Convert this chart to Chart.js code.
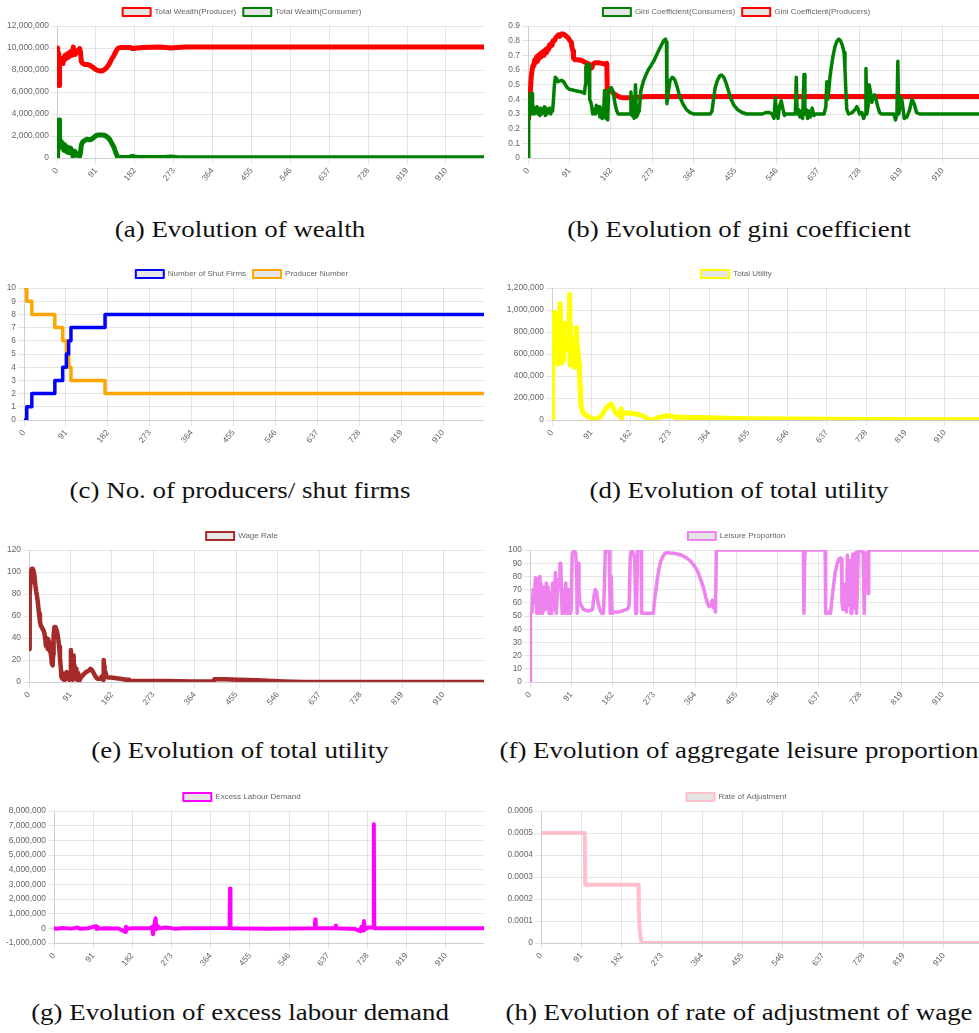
<!DOCTYPE html>
<html>
<head>
<meta charset="utf-8">
<script src="https://cdn.jsdelivr.net/npm/chart.js@4.4.1/dist/chart.umd.min.js"></script>
<style>
  html, body { margin: 0; padding: 0; background: #fff; }
  body { position: relative; width: 979px; height: 1033px; overflow: hidden; }
  canvas { position: absolute; }
  .cap {
    position: absolute;
    font-family: "Liberation Serif", "Times New Roman", serif;
    font-size: 23px;
    line-height: 23px;
    white-space: nowrap;
    color: #111;
    transform: translateX(-50%) scaleX(1.17);
    transform-origin: center;
  }
</style>
</head>
<body>
<canvas id="chartWealth" width="484" height="189" style="left:0px;top:1px"></canvas>
<canvas id="chartGini" width="493" height="189" style="left:490px;top:1px"></canvas>
<canvas id="chartFirms" width="484" height="189" style="left:0px;top:263px"></canvas>
<canvas id="chartUtility" width="493" height="189" style="left:490px;top:263px"></canvas>
<canvas id="chartWage" width="484" height="189" style="left:0px;top:525px"></canvas>
<canvas id="chartLeisure" width="493" height="189" style="left:490px;top:525px"></canvas>
<canvas id="chartExcess" width="484" height="189" style="left:0px;top:786px"></canvas>
<canvas id="chartRate" width="493" height="189" style="left:490px;top:786px"></canvas>

<div class="cap" style="left:240px;top:218px">(a) Evolution of wealth</div>
<div class="cap" style="left:739px;top:218px">(b) Evolution of gini coefficient</div>
<div class="cap" style="left:240px;top:479px">(c) No. of producers/ shut firms</div>
<div class="cap" style="left:739px;top:479px">(d) Evolution of total utility</div>
<div class="cap" style="left:240px;top:739px">(e) Evolution of total utility</div>
<div class="cap" style="left:739px;top:739px">(f) Evolution of aggregate leisure proportion</div>
<div class="cap" style="left:240px;top:1001px">(g) Evolution of excess labour demand</div>
<div class="cap" style="left:739px;top:1001px">(h) Evolution of rate of adjustment of wage</div>

<script>
// [step, value] pairs
const producerWealth = [
  [0, 10.0e6], [1, 9.2e6], [2, 9.8e6], [3, 8.7e6], [4, 9.5e6], [5, 6.6e6], [6, 8.4e6],
  [8, 8.6e6], [10, 8.9e6], [12, 8.6e6], [14, 9.1e6], [16, 8.8e6], [18, 9.3e6], [20, 9.0e6],
  [22, 9.4e6], [24, 9.1e6], [26, 9.5e6], [28, 9.2e6], [30, 9.6e6], [32, 9.3e6], [34, 9.7e6],
  [36, 9.35e6], [38, 10.1e6], [40, 9.4e6], [42, 9.6e6], [44, 9.5e6], [46, 9.7e6], [48, 9.6e6],
  [50, 9.8e6], [53, 9.95e6], [55, 9.6e6], [57, 8.8e6], [60, 8.6e6], [65, 8.5e6], [72, 8.5e6],
  [78, 8.4e6], [84, 8.25e6], [90, 8.05e6], [96, 7.95e6], [102, 7.9e6], [108, 7.95e6],
  [113, 8.1e6], [118, 8.3e6], [123, 8.6e6], [128, 9.0e6], [133, 9.3e6], [138, 9.7e6],
  [142, 9.95e6], [148, 10.05e6], [172, 10.05e6], [176, 9.95e6], [180, 9.95e6], [186, 10.0e6],
  [200, 10.05e6], [240, 10.1e6], [255, 10.05e6], [266, 10.0e6], [280, 10.05e6], [300, 10.1e6],
  [999, 10.1e6]
];
const consumerWealth = [
  [0, 0], [1, 1.1e6], [2, 0.4e6], [3, 1.5e6], [4, 0.9e6], [5, 3.45e6], [6, 1.6e6], [8, 1.3e6],
  [10, 1.5e6], [12, 1.0e6], [14, 1.3e6], [16, 0.7e6], [18, 1.2e6], [20, 0.8e6], [22, 0.6e6],
  [24, 1.0e6], [26, 0.5e6], [28, 0.8e6], [30, 0.55e6], [32, 0.9e6], [34, 0.4e6], [36, 0.7e6],
  [38, 0.1e6], [40, 0.6e6], [42, 0.5e6], [44, 0.35e6], [46, 0.4e6], [48, 0.25e6], [50, 0.3e6],
  [53, 0.15e6], [55, 0.5e6], [57, 1.2e6], [60, 1.45e6], [65, 1.6e6], [70, 1.7e6], [76, 1.65e6],
  [80, 1.7e6], [86, 1.85e6], [92, 2.05e6], [98, 2.1e6], [105, 2.1e6], [112, 2.05e6],
  [118, 1.9e6], [123, 1.7e6], [128, 1.35e6], [133, 1.0e6], [137, 0.55e6], [141, 0.15e6],
  [146, 0.05e6], [160, 0.05e6], [170, 0.08e6], [176, 0.15e6], [182, 0.1e6], [190, 0.05e6],
  [250, 0.05e6], [266, 0.1e6], [280, 0.05e6], [300, 0.02e6], [999, 0.02e6]
];

const giniConsumers = [
  [0, 0], [1, 0.3], [2, 0.27], [3, 0.4], [4, 0.31], [5, 0.44], [6, 0.3], [7, 0.37], [8, 0.3],
  [9, 0.44], [10, 0.32], [12, 0.35], [14, 0.3], [16, 0.34], [18, 0.31], [20, 0.35], [22, 0.3],
  [24, 0.33], [26, 0.29], [28, 0.34], [30, 0.3], [32, 0.33], [34, 0.31], [36, 0.35], [38, 0.29],
  [40, 0.34], [42, 0.3], [44, 0.33], [46, 0.31], [48, 0.34], [50, 0.3], [52, 0.33], [54, 0.32],
  [56, 0.4], [58, 0.5], [60, 0.55], [63, 0.54], [66, 0.52], [70, 0.525], [74, 0.53], [78, 0.52],
  [82, 0.5], [86, 0.48], [90, 0.47], [96, 0.465], [102, 0.46], [110, 0.455], [118, 0.45],
  [124, 0.44], [126, 0.5], [127, 0.62], [130, 0.64], [134, 0.63], [135, 0.6], [136, 0.4],
  [138, 0.38], [140, 0.35], [142, 0.3], [145, 0.33], [148, 0.3], [150, 0.36], [153, 0.31],
  [156, 0.35], [158, 0.28], [160, 0.34], [163, 0.27], [166, 0.3], [168, 0.46], [169, 0.3],
  [171, 0.27], [173, 0.3], [175, 0.26], [177, 0.45], [179, 0.47], [183, 0.48], [187, 0.45],
  [191, 0.37], [195, 0.32], [198, 0.3], [224, 0.3], [226, 0.45], [228, 0.29], [231, 0.3],
  [233, 0.27], [236, 0.5], [238, 0.28], [241, 0.3], [244, 0.32], [248, 0.46], [253, 0.52],
  [258, 0.56], [264, 0.6], [270, 0.63], [276, 0.66], [282, 0.7], [288, 0.74], [293, 0.77],
  [298, 0.8], [302, 0.81], [304, 0.79], [305, 0.37], [308, 0.45], [312, 0.53], [317, 0.55],
  [322, 0.535], [327, 0.49], [333, 0.42], [340, 0.37], [348, 0.33], [356, 0.31], [364, 0.3],
  [400, 0.3], [404, 0.32], [407, 0.39], [411, 0.48], [416, 0.53], [421, 0.56], [425, 0.565],
  [430, 0.55], [435, 0.51], [440, 0.46], [446, 0.4], [452, 0.36], [460, 0.33], [470, 0.31],
  [480, 0.3], [515, 0.3], [522, 0.31], [530, 0.31], [536, 0.3], [540, 0.27], [543, 0.41],
  [546, 0.3], [549, 0.27], [552, 0.35], [556, 0.39], [560, 0.33], [563, 0.29], [566, 0.3],
  [587, 0.3], [589, 0.55], [591, 0.3], [594, 0.33], [597, 0.28], [600, 0.32], [603, 0.27],
  [606, 0.57], [608, 0.3], [611, 0.33], [614, 0.27], [617, 0.32], [620, 0.28], [624, 0.34],
  [628, 0.29], [632, 0.3], [650, 0.3], [654, 0.35], [656, 0.52], [658, 0.4], [660, 0.45],
  [663, 0.55], [666, 0.62], [670, 0.7], [674, 0.76], [678, 0.795], [682, 0.81], [686, 0.8],
  [690, 0.77], [694, 0.72], [696, 0.6], [698, 0.45], [700, 0.33], [704, 0.3], [712, 0.31],
  [718, 0.33], [722, 0.35], [725, 0.33], [728, 0.3], [733, 0.31], [737, 0.27], [740, 0.3],
  [742, 0.61], [744, 0.3], [747, 0.36], [749, 0.5], [752, 0.45], [755, 0.38], [758, 0.42],
  [761, 0.43], [764, 0.4], [768, 0.35], [772, 0.31], [776, 0.3], [803, 0.3], [807, 0.26],
  [810, 0.3], [812, 0.66], [814, 0.3], [817, 0.35], [820, 0.41], [823, 0.35], [826, 0.27],
  [832, 0.28], [838, 0.33], [843, 0.4], [848, 0.37], [853, 0.31], [860, 0.3], [999, 0.3]
];
const giniProducers = [
  [0, 0.27], [1, 0.3], [2, 0.4], [3, 0.45], [5, 0.44], [7, 0.55], [9, 0.6], [11, 0.63],
  [13, 0.64], [15, 0.67], [17, 0.65], [19, 0.69], [21, 0.66], [23, 0.7], [25, 0.68], [27, 0.71],
  [29, 0.69], [31, 0.72], [33, 0.7], [35, 0.73], [37, 0.71], [39, 0.74], [41, 0.72], [43, 0.75],
  [45, 0.74], [47, 0.77], [49, 0.76], [51, 0.78], [53, 0.77], [55, 0.8], [58, 0.8], [61, 0.82],
  [64, 0.83], [67, 0.84], [70, 0.83], [73, 0.845], [77, 0.845], [80, 0.84], [84, 0.83],
  [88, 0.82], [92, 0.8], [95, 0.79], [97, 0.75], [99, 0.73], [100, 0.68], [103, 0.67],
  [110, 0.67], [118, 0.665], [124, 0.655], [130, 0.645], [134, 0.64], [137, 0.62], [140, 0.615],
  [143, 0.64], [147, 0.65], [155, 0.65], [162, 0.645], [168, 0.64], [173, 0.645], [174, 0.47],
  [178, 0.47], [183, 0.46], [188, 0.44], [195, 0.425], [202, 0.415], [210, 0.41], [225, 0.41],
  [240, 0.415], [260, 0.42], [999, 0.42]
];

const shutFirms = [
  [0, 0], [6, 1], [17, 2], [67, 3], [84, 4], [92, 5], [97, 6], [102, 7], [176, 8], [999, 8]
];
const producerNumber = [
  [0, 10], [6, 9], [17, 8], [67, 7], [84, 6], [92, 5], [97, 4], [102, 3], [176, 2], [999, 2]
];

const totalUtility = [
  [0, 0], [1, 170e3], [2, 410e3], [3, 660e3], [4, 880e3], [5, 780e3], [6, 980e3], [8, 900e3],
  [10, 950e3], [12, 780e3], [14, 920e3], [15, 510e3], [17, 700e3], [19, 1060e3], [21, 700e3],
  [23, 520e3], [25, 800e3], [27, 540e3], [29, 880e3], [31, 650e3], [33, 760e3], [35, 870e3],
  [37, 640e3], [39, 700e3], [41, 1140e3], [42, 500e3], [43, 870e3], [45, 620e3], [47, 660e3],
  [49, 550e3], [51, 600e3], [53, 480e3], [55, 560e3], [57, 840e3], [58, 500e3], [59, 670e3],
  [61, 600e3], [63, 500e3], [64, 380e3], [65, 300e3], [66, 230e3], [67, 160e3], [69, 100e3],
  [72, 70e3], [76, 50e3], [82, 35e3], [90, 20e3], [96, 10e3], [101, 0], [106, 10e3],
  [112, 30e3], [118, 60e3], [124, 100e3], [130, 125e3], [136, 145e3], [140, 130e3],
  [144, 90e3], [149, 60e3], [154, 45e3], [158, 40e3], [160, 100e3], [161, 5e3], [163, 70e3],
  [168, 60e3], [175, 65e3], [185, 60e3], [196, 55e3], [205, 45e3], [214, 30e3], [222, 10e3],
  [228, 0], [235, 0], [242, 15e3], [250, 25e3], [260, 35e3], [270, 38e3], [280, 35e3],
  [289, 20e3], [296, 28e3], [305, 25e3], [330, 22e3], [360, 20e3], [400, 15e3], [460, 12e3],
  [550, 10e3], [650, 7e3], [750, 5e3], [850, 3e3], [999, 2e3]
];

const wageRate = [
  [0, 30], [1, 68], [2, 80], [3, 90], [4, 100], [6, 103], [8, 103], [10, 101], [12, 96],
  [14, 88], [16, 82], [18, 77], [20, 70], [22, 62], [24, 55], [26, 51], [28, 50], [30, 48],
  [32, 47], [34, 44], [36, 38], [37, 33], [38, 40], [40, 35], [41, 30], [42, 39], [44, 36],
  [45, 28], [46, 33], [48, 25], [49, 22], [50, 17], [52, 15], [53, 25], [54, 43], [56, 50],
  [58, 50], [60, 48], [62, 45], [64, 40], [66, 32], [68, 22], [70, 12], [71, 5], [73, 3],
  [75, 6], [77, 2], [79, 8], [81, 4], [83, 9], [85, 3], [87, 7], [89, 2], [91, 6], [92, 29],
  [93, 3], [95, 22], [96, 2], [98, 24], [99, 8], [100, 15], [102, 3], [104, 12], [106, 2],
  [108, 8], [110, 0], [112, 3], [116, 5], [120, 7], [125, 9], [130, 10], [135, 12], [138, 11],
  [142, 8], [146, 5], [150, 3], [156, 3], [160, 5], [163, 2], [164, 20], [165, 14], [166, 4],
  [168, 9], [170, 5], [173, 4], [180, 4], [200, 3], [214, 2], [220, 2], [222, 0], [226, 1],
  [260, 1], [300, 1], [360, 0.5], [405, 0.5], [407, 2.5], [430, 2.5], [460, 2], [500, 1.5],
  [560, 0.5], [600, 0], [999, 0]
];

const leisureProportion = [
  [0, 0], [1, 52], [3, 54], [5, 53], [7, 70], [9, 60], [10, 67], [12, 79], [14, 74], [15, 52],
  [17, 78], [19, 75], [21, 80], [22, 52], [24, 75], [26, 62], [28, 52], [30, 72], [32, 60],
  [34, 55], [36, 75], [38, 65], [40, 72], [42, 52], [44, 68], [46, 58], [48, 52], [50, 75],
  [52, 60], [54, 55], [56, 83], [58, 52], [60, 65], [62, 72], [64, 78], [66, 90], [68, 90],
  [70, 60], [71, 52], [73, 70], [75, 52], [77, 65], [79, 75], [81, 55], [83, 52], [85, 70],
  [87, 55], [89, 52], [91, 55], [93, 97], [96, 99], [99, 99], [101, 97], [103, 80], [104, 52],
  [106, 90], [108, 70], [110, 60], [113, 58], [118, 55], [125, 54], [132, 54], [138, 55],
  [141, 65], [144, 70], [147, 68], [150, 60], [154, 55], [158, 52], [162, 52], [164, 70],
  [166, 99], [175, 99], [176, 70], [177, 52], [179, 80], [181, 52], [185, 53], [195, 53],
  [205, 54], [213, 55], [217, 56], [219, 60], [221, 95], [223, 99], [226, 99], [229, 96],
  [231, 93], [233, 52], [235, 52], [237, 100], [245, 100], [246, 52], [272, 52], [274, 60],
  [277, 68], [280, 76], [284, 85], [288, 91], [293, 95], [298, 97.5], [303, 98], [315, 97.5],
  [325, 97], [335, 96], [345, 94], [353, 92], [360, 89], [366, 86], [372, 82], [378, 76],
  [383, 71], [387, 65], [391, 60], [395, 57], [399, 58], [402, 62], [405, 56], [407, 62],
  [409, 53], [411, 100], [603, 100], [604, 52], [606, 96], [608, 100], [651, 100], [652, 52],
  [657, 52], [659, 53], [663, 52], [665, 60], [669, 72], [673, 83], [677, 89], [681, 93],
  [685, 94], [687, 93], [688, 60], [690, 55], [692, 74], [694, 55], [696, 70], [698, 53],
  [700, 96], [702, 58], [704, 80], [706, 92], [708, 52], [710, 85], [712, 97], [714, 56],
  [716, 70], [718, 98], [720, 52], [722, 70], [724, 100], [729, 100], [732, 99], [735, 97],
  [737, 52], [739, 98], [742, 95], [744, 84], [746, 67], [747, 100], [999, 100]
];

const excessLabourDemand = [
  [0, 0], [5, -30e3], [20, 20e3], [40, -20e3], [55, 60e3], [60, -30e3], [80, 10e3],
  [97, 150e3], [99, -50e3], [101, 100e3], [104, -20e3], [120, 10e3], [150, -10e3],
  [166, -250e3], [167, 100e3], [169, -50e3], [180, 0], [225, 30e3], [228, 100e3],
  [230, -400e3], [232, 50e3], [236, 680e3], [238, -50e3], [241, 150e3], [244, 0], [260, 50e3],
  [280, -20e3], [300, 0], [408, 20e3], [409, 2.72e6], [410, 0], [500, -20e3], [606, 0],
  [607, 600e3], [608, 0], [654, 0], [655, 200e3], [656, 0], [700, -50e3], [712, -200e3],
  [714, 100e3], [718, -150e3], [720, 500e3], [722, -50e3], [730, 50e3], [742, 50e3],
  [743, 7.1e6], [744, 0], [999, 0]
];

const rateOfAdjustment = [
  [0, 0.0005], [99, 0.0005], [100, 0.000265], [220, 0.000265], [221, 0.000155],
  [223, 0.00006], [225, 0.00003], [227, 0], [999, 0]
];

// x tick labels shown under every chart (time steps)
const stepTickLabels = [0, 91, 182, 273, 364, 455, 546, 637, 728, 819, 910];
const lastStep = 999;

Chart.defaults.font.family = "'Liberation Sans', Arial, sans-serif";
Chart.defaults.color = "#666";

function toPoints(pairs) {
  return pairs.map(([x, y]) => ({ x, y }));
}

function series(label, pairs, color, width, extra) {
  return Object.assign(
    {
      label,
      data: toPoints(pairs),
      borderColor: color,
      borderWidth: width,
      pointRadius: 0,
      borderJoinStyle: "round",
      borderCapStyle: "round",
    },
    extra || {}
  );
}

function makeChart(canvasId, datasets, yScale, yWidth) {
  const ctx = document.getElementById(canvasId);
  return new Chart(ctx, {
    type: "line",
    data: { datasets },
    options: {
      responsive: false,
      animation: false,
      events: [],
      devicePixelRatio: 1,
      layout: { padding: 0 },
      plugins: {
        tooltip: { enabled: false },
        legend: {
          labels: {
            font: { size: 8 },
            boxWidth: 28,
            padding: 7,
            generateLabels(chart) {
              const items = Chart.defaults.plugins.legend.labels.generateLabels(chart);
              items.forEach((it) => (it.lineWidth = 2));
              return items;
            },
          },
        },
      },
      scales: {
        x: {
          type: "linear",
          min: 0,
          max: lastStep,
          grid: { tickLength: 6 },
          ticks: {
            minRotation: 50,
            maxRotation: 50,
            padding: 2,
            font: { size: 8.4 },
          },
          afterBuildTicks(scale) {
            scale.ticks = stepTickLabels.map((v) => ({ value: v }));
          },
          afterFit(scale) {
            scale.height = 32;
          },
        },
        y: Object.assign(
          {
            grid: { tickLength: 6 },
            afterFit(scale) {
              scale.width = yWidth;
            },
          },
          yScale
        ),
      },
    },
  });
}

const yTicks = (step) => ({ stepSize: step, padding: 2, font: { size: 8.4 } });

makeChart(
  "chartWealth",
  [
    series("Total Wealth(Producer)", producerWealth, "red", 5),
    series("Total Wealth(Consumer)", consumerWealth, "green", 5),
  ],
  { min: 0, max: 12e6, ticks: yTicks(2e6) },
  57
);

makeChart(
  "chartGini",
  [
    series("Gini Coefficient(Consumers)", giniConsumers, "green", 3.5),
    series("Gini Coefficient(Producers)", giniProducers, "red", 5),
  ],
  { min: 0, max: 0.9, ticks: yTicks(0.1) },
  38
);

makeChart(
  "chartFirms",
  [
    series("Number of Shut Firms", shutFirms, "blue", 3.5, { stepped: true }),
    series("Producer Number", producerNumber, "orange", 3.5, { stepped: true }),
  ],
  { min: 0, max: 10, ticks: yTicks(1) },
  24
);

makeChart(
  "chartUtility",
  [series("Total Utility", totalUtility, "yellow", 5)],
  { min: 0, max: 1.2e6, ticks: yTicks(200e3) },
  62
);

makeChart(
  "chartWage",
  [series("Wage Rate", wageRate, "brown", 4.5)],
  { min: 0, max: 120, ticks: yTicks(20) },
  29
);

makeChart(
  "chartLeisure",
  [series("Leisure Proportion", leisureProportion, "violet", 3.5)],
  { min: 0, max: 100, ticks: yTicks(10) },
  40
);

makeChart(
  "chartExcess",
  [series("Excess Labour Demand", excessLabourDemand, "magenta", 4)],
  { min: -1e6, max: 8e6, ticks: yTicks(1e6) },
  54
);

makeChart(
  "chartRate",
  [series("Rate of Adjustment", rateOfAdjustment, "pink", 4)],
  { min: 0, max: 0.0006, ticks: yTicks(0.0001) },
  51
);
</script>
</body>
</html>
